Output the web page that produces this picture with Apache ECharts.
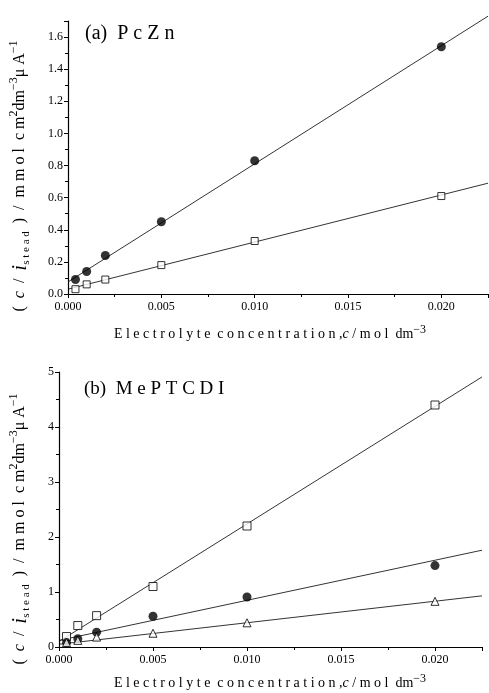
<!DOCTYPE html>
<html>
<head>
<meta charset="utf-8">
<script src="https://cdn.jsdelivr.net/npm/echarts@6/dist/echarts.min.js"></script>
<style>
  html, body { margin: 0; padding: 0; background: #fff; }
  #chart { width: 489px; height: 693px; }
</style>
</head>
<body>
<div id="chart"></div>
<script>
// concentrations, mol dm-3
var concA = [0.0004, 0.001, 0.002, 0.005, 0.010, 0.020];
var concB = [0.0004, 0.001, 0.002, 0.005, 0.010, 0.020];

// (a) PcZn
var pcznCircle = [0.09, 0.14, 0.24, 0.45, 0.83, 1.54];
var pcznSquare = [0.03, 0.06, 0.09, 0.18, 0.33, 0.61];
var pcznCircleFit = [[0, 0.075], [0.0225, 1.73]];
var pcznSquareFit = [[0, 0.03], [0.0225, 0.69]];

// (b) MePTCDI
var meSquare = [0.19, 0.39, 0.57, 1.10, 2.20, 4.40];
var meCircle = [0.08, 0.15, 0.27, 0.56, 0.91, 1.48];
var meTriangle = [0.08, 0.12, 0.18, 0.25, 0.44, 0.83];
var meSquareFit = [[0, 0.10], [0.0225, 4.91]];
var meCircleFit = [[0, 0.12], [0.0225, 1.76]];
var meTriangleFit = [[0, 0.05], [0.0225, 0.93]];

var titles = ['(a)  P c Z n', '(b)  M e P T C D I'];

function pairs(xs, ys) {
    return xs.map(function (x, i) { return [x, ys[i]]; });
}

var serif = 'Liberation Serif';

function spaced(s) {
    return s.split('').join(' ');
}

function xAxisOf(gi) {
    return {
        type: 'value', gridIndex: gi, min: 0, max: 0.0225, interval: 0.005,
        axisLine: { lineStyle: { color: '#000', width: 1.2 } },
        axisTick: { length: 4, lineStyle: { color: '#000' } },
        minorTick: { show: true, splitNumber: 2, length: 3, lineStyle: { color: '#000' } },
        splitLine: { show: false },
        axisLabel: {
            color: '#000', fontFamily: serif, fontSize: 12, margin: 7, showMaxLabel: false,
            formatter: function (v) { return v.toFixed(3); }
        }
    };
}

function yAxisOf(gi, max, interval, digits) {
    return {
        type: 'value', gridIndex: gi, min: 0, max: max, interval: interval,
        axisLine: { show: true, lineStyle: { color: '#000', width: 1.2 } },
        axisTick: { show: true, length: 4, lineStyle: { color: '#000' } },
        minorTick: { show: true, splitNumber: 2, length: 3, lineStyle: { color: '#000' } },
        splitLine: { show: false },
        axisLabel: {
            color: '#000', fontFamily: serif, fontSize: 12, margin: 5, showMaxLabel: max % interval === 0,
            formatter: function (v) { return v.toFixed(digits); }
        }
    };
}

function scatter(name, gi, data, symbol, size, filled) {
    return {
        name: name, type: 'scatter', xAxisIndex: gi, yAxisIndex: gi,
        data: data, symbol: symbol, symbolSize: size, z: 3,
        itemStyle: filled ? { color: '#000' } : { color: '#fff', borderColor: '#000', borderWidth: 1 }
    };
}

function fit(gi, data) {
    return {
        type: 'line', xAxisIndex: gi, yAxisIndex: gi, data: data,
        showSymbol: false, clip: false, silent: true, z: 2,
        lineStyle: { color: '#000', width: 0.8 }
    };
}

var yRich = {
    t: { fontFamily: serif, fontSize: 16, color: '#000', lineHeight: 24 },
    it: { fontFamily: serif, fontSize: 16, fontStyle: 'italic', color: '#000', lineHeight: 24 },
    big: { fontFamily: serif, fontSize: 21, fontStyle: 'italic', color: '#000', lineHeight: 24 },
    sub: { fontFamily: serif, fontSize: 11, color: '#000', lineHeight: 24, verticalAlign: 'bottom' },
    sup: { fontFamily: serif, fontSize: 12, color: '#000', lineHeight: 24, verticalAlign: 'top' }
};
var yText = '{t|(  }{it|c}{t|  /  }{big|i}{sub|' + spaced('stead') + '}{t|  )  /  m m o l  c m}{sup|2}' +
    '{t|dm}{sup|\u22123}{t|μ A}{sup|\u22121}';

var xRich = {
    t: { fontFamily: serif, fontSize: 14, color: '#000', lineHeight: 20 },
    it: { fontFamily: serif, fontSize: 14, fontStyle: 'italic', color: '#000', lineHeight: 20 },
    sup: { fontFamily: serif, fontSize: 12, color: '#000', lineHeight: 20, verticalAlign: 'top' }
};
var xText = '{t|' + spaced('Electrolyte') + '  ' + spaced('concentration,') + '}{it|c}{t| / ' +
    spaced('mol') + '  dm}{sup|\u22123}';

var option = {
    backgroundColor: '#fff',
    animation: false,
    grid: [
        { left: 68, top: 21, width: 420, height: 273 },
        { left: 59, top: 372, width: 423, height: 275 }
    ],
    xAxis: [xAxisOf(0), xAxisOf(1)],
    yAxis: [yAxisOf(0, 1.7, 0.2, 1), yAxisOf(1, 5, 1, 0)],
    series: [
        fit(0, pcznCircleFit),
        fit(0, pcznSquareFit),
        scatter('PcZn circle', 0, pairs(concA, pcznCircle), 'circle', 9, true),
        scatter('PcZn square', 0, pairs(concA, pcznSquare), 'rect', 7, false),
        fit(1, meSquareFit),
        fit(1, meCircleFit),
        fit(1, meTriangleFit),
        scatter('MePTCDI square', 1, pairs(concB, meSquare), 'rect', 8, false),
        scatter('MePTCDI circle', 1, pairs(concB, meCircle), 'circle', 9, true),
        scatter('MePTCDI triangle', 1, pairs(concB, meTriangle), 'triangle', 8, false)
    ],
    graphic: [
        { type: 'text', left: 85, top: 24, style: { text: titles[0], font: '20px "Liberation Serif"', fill: '#000' } },
        { type: 'text', left: 84, top: 380, style: { text: titles[1], font: '19px "Liberation Serif"', fill: '#000' } },
        { type: 'text', x: 20, y: 176, rotation: Math.PI / 2,
          style: { text: yText, rich: yRich, align: 'center', verticalAlign: 'middle' } },
        { type: 'text', x: 20, y: 529, rotation: Math.PI / 2,
          style: { text: yText, rich: yRich, align: 'center', verticalAlign: 'middle' } },
        { type: 'text', x: 270, y: 334, style: { text: xText, rich: xRich, align: 'center', verticalAlign: 'middle' } },
        { type: 'text', x: 270, y: 683, style: { text: xText, rich: xRich, align: 'center', verticalAlign: 'middle' } }
    ]
};

var chart = echarts.init(document.getElementById('chart'));
chart.setOption(option);
window.onresize = function () {
    chart.resize();
};
</script>
</body>
</html>
